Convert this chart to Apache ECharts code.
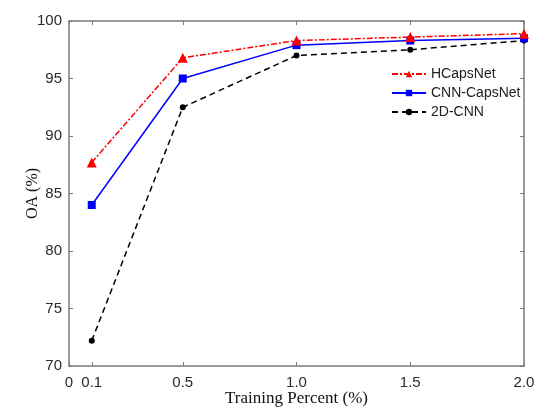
<!DOCTYPE html>
<html>
<head>
<meta charset="utf-8">
<script src="https://cdn.jsdelivr.net/npm/echarts@6/dist/echarts.min.js"></script>
<style>
	html, body { margin: 0; padding: 0; background: #fff; }
	#chart { width: 535px; height: 408px; }
</style>
</head>
<body>
<div id="chart"></div>
<script>
// training percent values on x
const percents = [0.1, 0.5, 1.0, 1.5, 2.0]
const xTicks = [0, 0.1, 0.5, 1.0, 1.5, 2.0]
const hcapsnet = [87.7, 96.8, 98.3, 98.6, 98.9]
const cnnCapsnet = [84.0, 95.0, 97.9, 98.3, 98.5]
const cnn2d = [72.2, 92.5, 97.0, 97.5, 98.3]

const axisGray = '#7a7a7a'
const labelColor = '#2b2b2b'

const toPairs = (vals) => percents.map((p, i) => [p, vals[i]])

let myChart = echarts.init(document.getElementById('chart'))
let option = {
	backgroundColor: '#fff',
	animation: false,
	grid: {
		left: 69,
		right: 11,
		top: 21,
		bottom: 42,
		outerBoundsMode: 'none'
	},
	legend: {
		orient: 'vertical',
		left: 386,
		top: 62,
		itemWidth: 34,
		itemHeight: 8,
		itemGap: 5,
		textStyle: {
			fontFamily: 'Liberation Sans',
			fontSize: 14,
			color: '#222'
		},
		data: ['HCapsNet', 'CNN-CapsNet', '2D-CNN']
	},
	xAxis: [
		{
			type: 'value',
			min: 0,
			max: 2,
			name: 'Training Percent (%)',
			nameLocation: 'middle',
			nameGap: 24,
			nameMoveOverlap: false,
			nameTextStyle: {
				fontFamily: 'Liberation Serif',
				fontSize: 17,
				color: '#111'
			},
			axisLine: { show: true, lineStyle: { color: axisGray, width: 1.5 } },
			axisTick: {
				show: true,
				inside: true,
				length: 4,
				customValues: xTicks,
				lineStyle: { color: axisGray }
			},
			axisLabel: {
				customValues: xTicks,
				margin: 9,
				fontFamily: 'Liberation Sans',
				fontSize: 15,
				color: labelColor,
				formatter: (v) => (v === 0 ? '0' : v.toFixed(1))
			},
			splitLine: { show: false }
		},
		{
			type: 'value',
			position: 'top',
			min: 0,
			max: 2,
			axisLine: { show: true, onZero: false, lineStyle: { color: axisGray, width: 1.5 } },
			axisTick: {
				show: true,
				inside: true,
				length: 4,
				customValues: xTicks,
				lineStyle: { color: axisGray }
			},
			axisLabel: { show: false },
			splitLine: { show: false }
		}
	],
	yAxis: [
		{
			type: 'value',
			min: 70,
			max: 100,
			interval: 5,
			name: 'OA (%)',
			nameLocation: 'middle',
			nameGap: 28,
			nameMoveOverlap: false,
			nameTextStyle: {
				fontFamily: 'Liberation Serif',
				fontSize: 16,
				color: '#111'
			},
			axisLine: { show: true, lineStyle: { color: axisGray, width: 1.5 } },
			axisTick: { show: true, inside: true, length: 4, lineStyle: { color: axisGray } },
			axisLabel: {
				margin: 7,
				fontFamily: 'Liberation Sans',
				fontSize: 15,
				color: labelColor
			},
			splitLine: { show: false }
		},
		{
			type: 'value',
			position: 'right',
			min: 70,
			max: 100,
			interval: 5,
			axisLine: { show: true, onZero: false, lineStyle: { color: axisGray, width: 1.5 } },
			axisTick: { show: true, inside: true, length: 4, lineStyle: { color: axisGray } },
			axisLabel: { show: false },
			splitLine: { show: false }
		}
	],
	series: [
		{
			name: 'HCapsNet',
			type: 'line',
			symbol: 'triangle',
			symbolSize: 10,
			itemStyle: { color: '#ff0000' },
			lineStyle: { color: '#ff0000', width: 1.5, type: [6, 2, 2, 2] },
			data: toPairs(hcapsnet),
			z: 4
		},
		{
			name: 'CNN-CapsNet',
			type: 'line',
			symbol: 'rect',
			symbolSize: 8,
			itemStyle: { color: '#0000ff' },
			lineStyle: { color: '#0000ff', width: 1.5 },
			data: toPairs(cnnCapsnet),
			z: 3
		},
		{
			name: '2D-CNN',
			type: 'line',
			symbol: 'circle',
			symbolSize: 6,
			itemStyle: { color: '#000' },
			lineStyle: { color: '#000', width: 1.5, type: [6, 4] },
			data: toPairs(cnn2d),
			z: 2
		}
	]
}
myChart.setOption(option)
</script>
</body>
</html>
